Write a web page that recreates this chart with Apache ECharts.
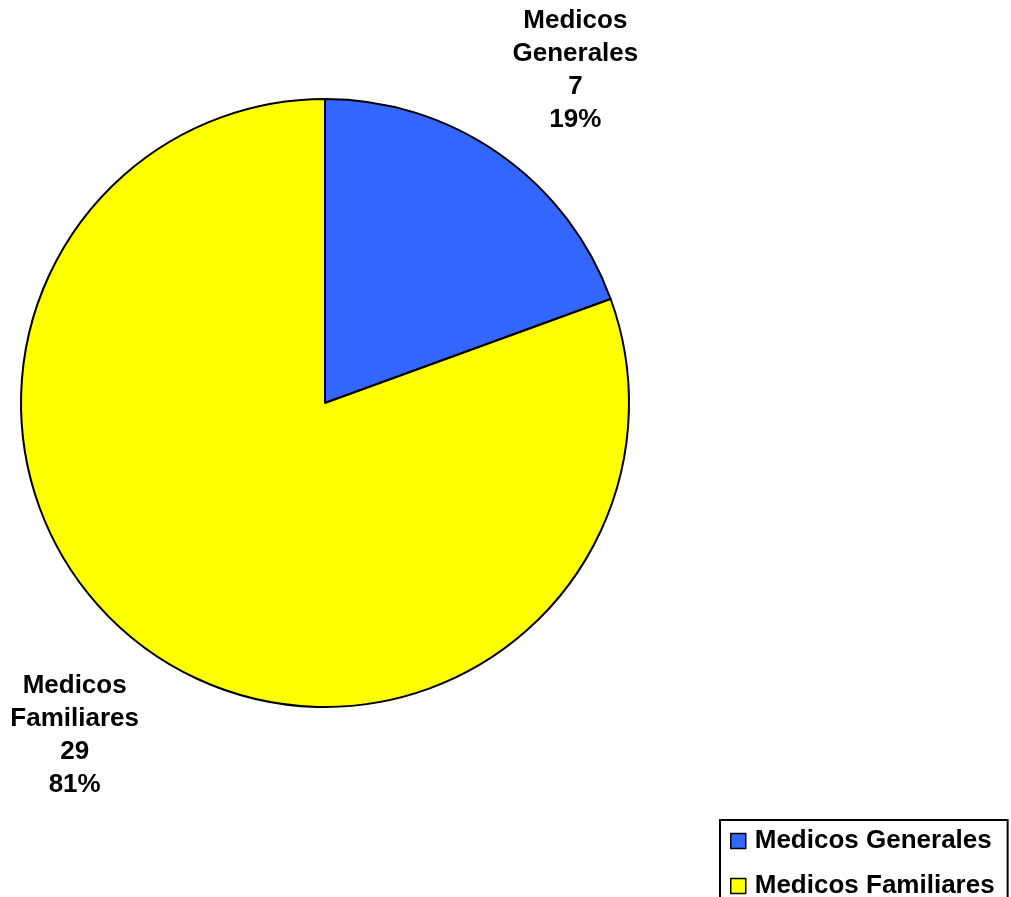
<!DOCTYPE html>
<html>
<head>
<meta charset="utf-8">
<script src="https://cdn.jsdelivr.net/npm/echarts@6/dist/echarts.min.js"></script>
<style>
html,body{margin:0;padding:0;background:#fff;}
#chart{width:1011px;height:897px;}
</style>
</head>
<body>
<div id="chart"></div>
<script>
const categories = ['Medicos Generales', 'Medicos Familiares'];
const values = [7, 29];
const colors = ['#3366FF', '#FFFF00'];

const data = categories.map((c, i) => ({ name: c, value: values[i], itemStyle: { color: colors[i] } }));
const labelData = categories.map((c, i) => ({ name: c, value: values[i] }));

const FONT = "'Liberation Sans', Arial, sans-serif";

const chart = echarts.init(document.getElementById('chart'), null, { renderer: 'canvas' });
chart.setOption({
  backgroundColor: '#ffffff',
  animation: false,
  legend: {
    type: 'plain',
    orient: 'vertical',
    left: 720,
    top: 820,
    height: 120,
    data: categories,
    padding: [6, 13, 12, 10],
    itemGap: 15,
    itemWidth: 15,
    itemHeight: 15,
    icon: 'rect',
    borderColor: '#000',
    borderWidth: 2,
    backgroundColor: '#fff',
    itemStyle: { borderColor: '#000', borderWidth: 1.5 },
    textStyle: {
      fontFamily: FONT,
      fontWeight: 'bold',
      fontSize: 26,
      lineHeight: 30,
      color: '#000',
      padding: [0, 0, 0, 4]
    }
  },
  series: [
    {
      type: 'pie',
      center: [325, 403],
      radius: 304,
      startAngle: 90,
      clockwise: true,
      data: data,
      itemStyle: { borderColor: '#000', borderWidth: 2 },
      label: { show: false },
      labelLine: { show: false },
      emphasis: { disabled: true }
    },
    {
      type: 'pie',
      center: [325, 403],
      radius: [0, 826],
      startAngle: 88,
      clockwise: true,
      silent: true,
      legendHoverLink: false,
      data: labelData,
      itemStyle: { color: 'rgba(0,0,0,0)', borderWidth: 0 },
      label: {
        show: true,
        position: 'inside',
        formatter: p => p.name.replace(' ', '\n') + '\n' + p.value + '\n' + Math.round(p.percent) + '%',
        fontFamily: FONT,
        fontWeight: 'bold',
        fontSize: 26,
        lineHeight: 33,
        color: '#000',
        align: 'center'
      },
      labelLine: { show: false },
      emphasis: { disabled: true },
      z: 1
    }
  ]
});
</script>
</body>
</html>
